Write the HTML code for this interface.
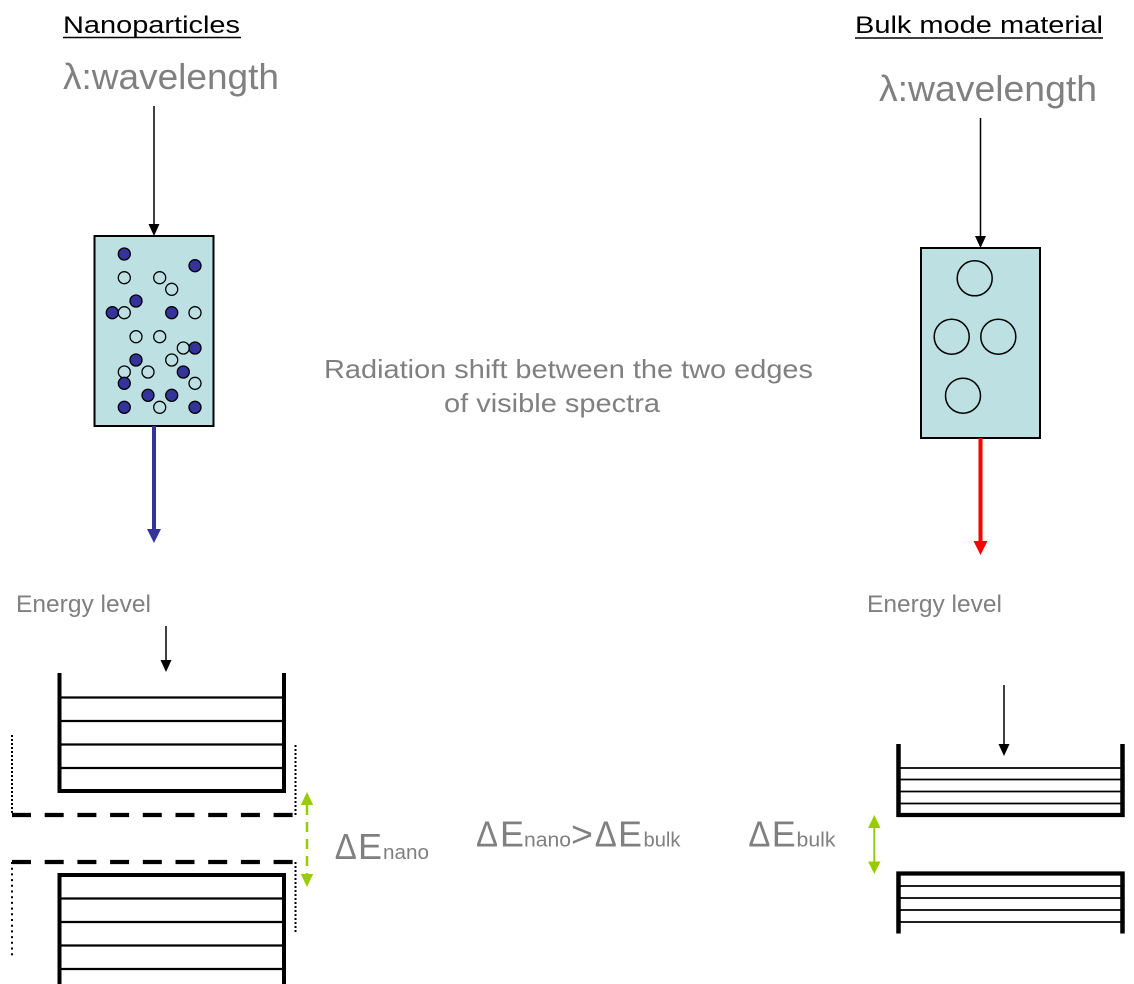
<!DOCTYPE html>
<html>
<head>
<meta charset="utf-8">
<style>
  html,body{margin:0;padding:0;background:#fff;}
  svg{display:block;}
  text{font-family:"Liberation Sans",Arial,sans-serif;}
</style>
</head>
<body>
<svg width="1134" height="984" viewBox="0 0 1134 984" xmlns="http://www.w3.org/2000/svg">
  <rect x="0" y="0" width="1134" height="984" fill="#fff"/>

  <!-- Titles -->
  <text x="63" y="33" font-size="24" fill="#000" textLength="177" lengthAdjust="spacingAndGlyphs">Nanoparticles</text>
  <line x1="63" y1="37.5" x2="241" y2="37.5" stroke="#000" stroke-width="1.6"/>
  <text x="855" y="33" font-size="24" fill="#000" textLength="248" lengthAdjust="spacingAndGlyphs">Bulk mode material</text>
  <line x1="855" y1="38" x2="1103" y2="38" stroke="#000" stroke-width="1.6"/>

  <!-- wavelength labels -->
  <text x="63" y="89" font-size="36" fill="#808080" textLength="216" lengthAdjust="spacingAndGlyphs">λ:wavelength</text>
  <text x="879" y="101" font-size="36" fill="#808080" textLength="218" lengthAdjust="spacingAndGlyphs">λ:wavelength</text>

  <!-- incoming arrows -->
  <line x1="154" y1="106" x2="154" y2="225" stroke="#000" stroke-width="1.5"/>
  <polygon points="148.5,224 159.5,224 154,236" fill="#000"/>
  <line x1="980.5" y1="118" x2="980.5" y2="237" stroke="#000" stroke-width="1.5"/>
  <polygon points="975,236 986,236 980.5,248" fill="#000"/>

  <!-- Left box -->
  <rect x="94.5" y="236" width="119" height="190" fill="#bde0e3" stroke="#000" stroke-width="2"/>
  <g stroke="#000" stroke-width="1.3">
    <circle cx="112.3" cy="312.7" r="6" fill="#333399"/>
    <circle cx="124.3" cy="312.7" r="6" fill="none"/>
    <circle cx="124.3" cy="277.7" r="6" fill="none"/>
    <circle cx="159.7" cy="277.7" r="6" fill="none"/>
    <circle cx="171.7" cy="289.3" r="6" fill="none"/>
    <circle cx="195" cy="312.7" r="6" fill="none"/>
    <circle cx="136" cy="336.7" r="6" fill="none"/>
    <circle cx="159.7" cy="336.7" r="6" fill="none"/>
    <circle cx="183.3" cy="348" r="6" fill="none"/>
    <circle cx="171.7" cy="360" r="6" fill="none"/>
    <circle cx="124.3" cy="372" r="6" fill="none"/>
    <circle cx="148" cy="372" r="6" fill="none"/>
    <circle cx="195" cy="383.3" r="6" fill="none"/>
    <circle cx="159.7" cy="407.3" r="6" fill="none"/>

    <circle cx="124.3" cy="254" r="6" fill="#333399"/>
    <circle cx="195" cy="265.7" r="6" fill="#333399"/>
    <circle cx="136" cy="301" r="6" fill="#333399"/>
    <circle cx="171.7" cy="312.7" r="6" fill="#333399"/>
    <circle cx="195" cy="348" r="6" fill="#333399"/>
    <circle cx="136" cy="360" r="6" fill="#333399"/>
    <circle cx="183.3" cy="372" r="6" fill="#333399"/>
    <circle cx="124.3" cy="383.3" r="6" fill="#333399"/>
    <circle cx="148" cy="395.3" r="6" fill="#333399"/>
    <circle cx="171.7" cy="395.3" r="6" fill="#333399"/>
    <circle cx="124.3" cy="407.3" r="6" fill="#333399"/>
    <circle cx="195" cy="407.3" r="6" fill="#333399"/>
  </g>

  <!-- Right box -->
  <rect x="921" y="248" width="119" height="190" fill="#bde0e3" stroke="#000" stroke-width="2"/>
  <g stroke="#000" stroke-width="1.5" fill="none">
    <circle cx="974.7" cy="278.3" r="17.5"/>
    <circle cx="951.7" cy="336.7" r="17.5"/>
    <circle cx="998.3" cy="336.7" r="17.5"/>
    <circle cx="963" cy="395.7" r="17.5"/>
  </g>

  <!-- Blue and red arrows -->
  <line x1="154" y1="426" x2="154" y2="531" stroke="#333399" stroke-width="4"/>
  <polygon points="147,529 161,529 154,543" fill="#333399"/>
  <line x1="980.5" y1="438" x2="980.5" y2="543" stroke="#ff0000" stroke-width="4"/>
  <polygon points="973.5,541 987.5,541 980.5,555" fill="#ff0000"/>

  <!-- Middle text -->
  <text x="324" y="378" font-size="26" fill="#808080" textLength="489" lengthAdjust="spacingAndGlyphs">Radiation shift between the two edges</text>
  <text x="444" y="412" font-size="26" fill="#808080" textLength="216" lengthAdjust="spacingAndGlyphs">of visible spectra</text>

  <!-- Energy level labels -->
  <text x="16" y="612" font-size="24" fill="#808080" textLength="135" lengthAdjust="spacingAndGlyphs">Energy level</text>
  <text x="867" y="612" font-size="24" fill="#808080" textLength="135" lengthAdjust="spacingAndGlyphs">Energy level</text>

  <!-- small arrows -->
  <line x1="166" y1="626" x2="166" y2="661" stroke="#000" stroke-width="1.5"/>
  <polygon points="160.5,660 171.5,660 166,672" fill="#000"/>
  <line x1="1004" y1="685" x2="1004" y2="745" stroke="#000" stroke-width="1.5"/>
  <polygon points="998.5,744 1009.5,744 1004,756" fill="#000"/>

  <!-- Left energy diagram: top -->
  <g stroke="#000">
    <line x1="59.5" y1="673" x2="59.5" y2="793" stroke-width="4"/>
    <line x1="284" y1="673" x2="284" y2="793" stroke-width="4"/>
    <line x1="57.5" y1="791" x2="286" y2="791" stroke-width="4"/>
    <line x1="60" y1="697.5" x2="284" y2="697.5" stroke-width="2.2"/>
    <line x1="60" y1="721" x2="284" y2="721" stroke-width="2.2"/>
    <line x1="60" y1="744.5" x2="284" y2="744.5" stroke-width="2.2"/>
    <line x1="60" y1="768" x2="284" y2="768" stroke-width="2.2"/>

    <line x1="12" y1="735" x2="12" y2="815" stroke-width="2" stroke-dasharray="2 2"/>
    <line x1="295.5" y1="745" x2="295.5" y2="815" stroke-width="2" stroke-dasharray="2 2"/>
    <line x1="12" y1="815" x2="296" y2="815" stroke-width="4.3" stroke-dasharray="19 13.7"/>
    <line x1="12" y1="862" x2="296" y2="862" stroke-width="4.3" stroke-dasharray="19 13.7"/>
    <line x1="12" y1="862" x2="12" y2="957" stroke-width="2" stroke-dasharray="2 3.7"/>
    <line x1="295.5" y1="862" x2="295.5" y2="933" stroke-width="2" stroke-dasharray="2 2"/>

    <line x1="57.5" y1="875" x2="286" y2="875" stroke-width="4"/>
    <line x1="59.5" y1="873" x2="59.5" y2="984" stroke-width="4"/>
    <line x1="284" y1="873" x2="284" y2="984" stroke-width="4"/>
    <line x1="60" y1="898.5" x2="284" y2="898.5" stroke-width="2.2"/>
    <line x1="60" y1="922" x2="284" y2="922" stroke-width="2.2"/>
    <line x1="60" y1="945.5" x2="284" y2="945.5" stroke-width="2.2"/>
    <line x1="60" y1="969" x2="284" y2="969" stroke-width="2.2"/>
  </g>

  <!-- green dashed double arrow -->
  <line x1="307" y1="805" x2="307" y2="874" stroke="#99cc00" stroke-width="2.5" stroke-dasharray="10 7"/>
  <polygon points="300.8,805 313.2,805 307,792" fill="#99cc00"/>
  <polygon points="300.8,874 313.2,874 307,887" fill="#99cc00"/>

  <!-- Right energy diagram -->
  <g stroke="#000">
    <line x1="898.5" y1="744" x2="898.5" y2="817" stroke-width="4.5"/>
    <line x1="1122.5" y1="744" x2="1122.5" y2="817" stroke-width="4.5"/>
    <line x1="896.5" y1="815" x2="1124.5" y2="815" stroke-width="4.3"/>
    <line x1="899" y1="768" x2="1122" y2="768" stroke-width="1.8"/>
    <line x1="899" y1="779.5" x2="1122" y2="779.5" stroke-width="1.8"/>
    <line x1="899" y1="791.5" x2="1122" y2="791.5" stroke-width="1.8"/>
    <line x1="899" y1="803.5" x2="1122" y2="803.5" stroke-width="1.8"/>

    <line x1="896.5" y1="873.5" x2="1124.5" y2="873.5" stroke-width="4.3"/>
    <line x1="898.5" y1="871.5" x2="898.5" y2="933.5" stroke-width="4.5"/>
    <line x1="1122.5" y1="871.5" x2="1122.5" y2="933.5" stroke-width="4.5"/>
    <line x1="899" y1="886" x2="1122" y2="886" stroke-width="1.8"/>
    <line x1="899" y1="898" x2="1122" y2="898" stroke-width="1.8"/>
    <line x1="899" y1="910" x2="1122" y2="910" stroke-width="1.8"/>
    <line x1="899" y1="922" x2="1122" y2="922" stroke-width="1.8"/>
  </g>

  <!-- green solid double arrow -->
  <line x1="874.3" y1="827" x2="874.3" y2="862" stroke="#99cc00" stroke-width="2"/>
  <polygon points="868.1,828 880.5,828 874.3,815" fill="#99cc00"/>
  <polygon points="868.1,861.5 880.5,861.5 874.3,874" fill="#99cc00"/>

  <!-- Delta E labels -->
  <g fill="#808080">
    <text x="334.7" y="859" font-size="36" textLength="22" lengthAdjust="spacingAndGlyphs">Δ</text>
    <text x="358" y="859" font-size="36" textLength="24" lengthAdjust="spacingAndGlyphs">E</text>
    <text x="383" y="859" font-size="20" textLength="46" lengthAdjust="spacingAndGlyphs">nano</text>

    <text x="476" y="846.5" font-size="36" textLength="22" lengthAdjust="spacingAndGlyphs">Δ</text>
    <text x="500" y="846.5" font-size="36" textLength="24" lengthAdjust="spacingAndGlyphs">E</text>
    <text x="524" y="846.5" font-size="20" textLength="47" lengthAdjust="spacingAndGlyphs">nano</text>
    <text x="571" y="846.5" font-size="36" textLength="22" lengthAdjust="spacingAndGlyphs">&gt;</text>
    <text x="594.7" y="846.5" font-size="36" textLength="22" lengthAdjust="spacingAndGlyphs">Δ</text>
    <text x="618" y="846.5" font-size="36" textLength="24" lengthAdjust="spacingAndGlyphs">E</text>
    <text x="643.5" y="846.5" font-size="20" textLength="37" lengthAdjust="spacingAndGlyphs">bulk</text>

    <text x="748.4" y="846.5" font-size="36" textLength="22" lengthAdjust="spacingAndGlyphs">Δ</text>
    <text x="771.7" y="846.5" font-size="36" textLength="24" lengthAdjust="spacingAndGlyphs">E</text>
    <text x="796.5" y="846.5" font-size="20" textLength="39" lengthAdjust="spacingAndGlyphs">bulk</text>
  </g>
</svg>
</body>
</html>
